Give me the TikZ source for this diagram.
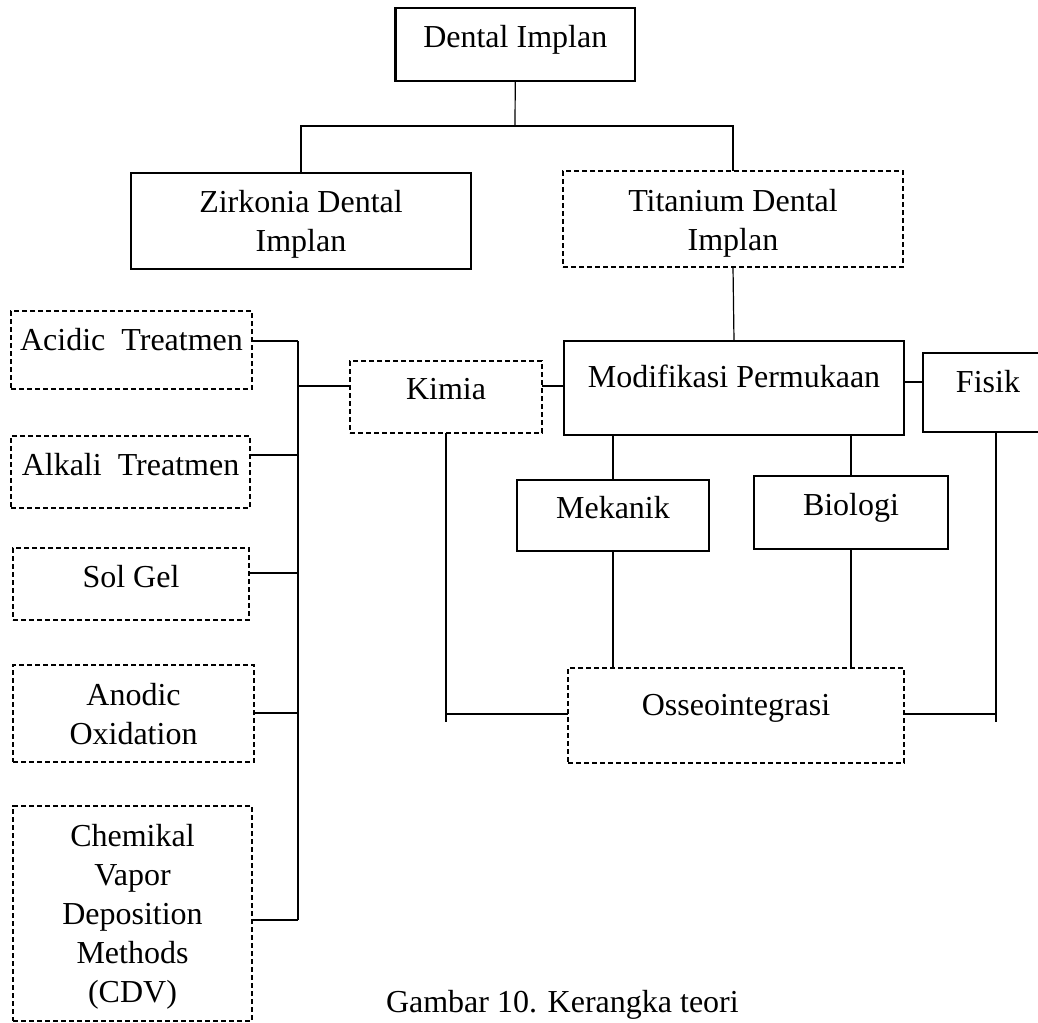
\documentclass[tikz,border=0pt]{standalone}
\usepackage{fontspec}
\setmainfont{Liberation Serif}
\usetikzlibrary{calc}
\newcommand{\boxtext}[2]{\raisebox{#1}[0pt][0pt]{\begin{tabular}[t]{@{}c@{}}#2\end{tabular}}}
\begin{document}
\begin{tikzpicture}[x=0.5pt,y=-0.5pt,
  base/.style={inner sep=0pt, outer sep=0pt, font=\fontsize{16pt}{19.5pt}\selectfont},
  solidbox/.style={base, draw, line width=1.4pt},
  dashbox/.style={base, draw, line width=1.1pt, dash pattern=on 2.6pt off 1.4pt},
  conn/.style={line width=0.6pt}]
\useasboundingbox (0,0) rectangle (1038,1022);
\clip (0,0) rectangle (1038,1022);

% top level
\node[solidbox, minimum width=119.75pt, minimum height=36.5pt] (dental) at (515.25,44.5) {\boxtext{-1.75pt}{Dental Implan}};
\node[solidbox, minimum width=170pt, minimum height=48pt] (zirk) at (301,221) {\boxtext{4.5pt}{Zirkonia Dental\\Implan}};
\node[dashbox, minimum width=170pt, minimum height=48pt] (titan) at (733,219) {\boxtext{4pt}{Titanium Dental\\Implan}};

% middle
\node[solidbox, minimum width=170pt, minimum height=47pt] (modif) at (734,388) {\boxtext{0.5pt}{Modifikasi Permukaan}};
\node[solidbox, minimum width=65pt, minimum height=39.5pt] (fisik) at (988,392.5) {\boxtext{0pt}{Fisik}};
\node[dashbox, minimum width=96pt, minimum height=36pt] (kimia) at (446,397) {\boxtext{-1pt}{Kimia}};
\node[solidbox, minimum width=96pt, minimum height=35.5pt] (mek) at (613,515.5) {\boxtext{-1.25pt}{Mekanik}};
\node[solidbox, minimum width=97pt, minimum height=36.5pt] (bio) at (851,512.5) {\boxtext{-1.25pt}{Biologi}};
\node[dashbox, minimum width=168pt, minimum height=47.5pt] (osseo) at (736,715.5) {\boxtext{0.25pt}{Osseointegrasi}};

% left column
\node[dashbox, minimum width=120.5pt, minimum height=39pt] (acid) at (131.5,350) {\boxtext{0pt}{Acidic\ \ Treatmen}};
\node[dashbox, minimum width=119.5pt, minimum height=36pt] (alk) at (130.5,472) {\boxtext{-1.5pt}{Alkali\ \ Treatmen}};
\node[dashbox, minimum width=118pt, minimum height=36pt] (sol) at (131,584) {\boxtext{-1.5pt}{Sol Gel}};
\node[dashbox, minimum width=120.5pt, minimum height=48.5pt] (anod) at (133.5,713.5) {\boxtext{4.25pt}{Anodic\\Oxidation}};
\node[dashbox, minimum width=119.5pt, minimum height=107.5pt] (chem) at (132.5,913.5) {\boxtext{33.75pt}{Chemikal\\Vapor\\Deposition\\Methods\\(CDV)}};

% caption
\node[base, anchor=base west] (cap) at (386,1012) {Gambar 10. Kerangka teori};

% coordinates for connectors
\coordinate (j) at (515,126);
\coordinate (b1) at (298,341);
\coordinate (b2) at (298,455);
\coordinate (b3) at (298,573);
\coordinate (b4) at (298,713);
\coordinate (b5) at (298,920);
\coordinate (bk) at (298,386);
\coordinate (fy) at (0,382);
\coordinate (oy) at (0,714);
\coordinate (low) at (0,722);
\coordinate (fx) at (996,0);

% connectors
\draw[conn] (dental.south) -- (j);
\draw[conn] (zirk.north) |- (j) -| (titan.north);
\draw[conn] (titan.south) -- (modif.north);

\draw[conn] (b1) -- (b5);
\draw[conn] (b1) -- (b1 -| acid.east);
\draw[conn] (b2) -- (b2 -| alk.east);
\draw[conn] (b3) -- (b3 -| sol.east);
\draw[conn] (b4) -- (b4 -| anod.east);
\draw[conn] (b5) -- (b5 -| chem.east);
\draw[conn] (bk) -- (bk -| kimia.west);
\draw[conn] (bk -| kimia.east) -- (bk -| modif.west);
\draw[conn] (fy -| modif.east) -- (fy -| fisik.west);

\draw[conn] (mek.north |- modif.south) -- (mek.north);
\draw[conn] (bio.north |- modif.south) -- (bio.north);
\draw[conn] (mek.south) -- (mek.south |- osseo.north);
\draw[conn] (bio.south) -- (bio.south |- osseo.north);

\draw[conn] (kimia.south) -- (kimia.south |- low);
\draw[conn] (kimia.south |- oy) -- (oy -| osseo.west);
\draw[conn] (fisik.south -| fx) -- (fx |- low);
\draw[conn] (oy -| osseo.east) -- (oy -| fx);
\end{tikzpicture}
\end{document}
